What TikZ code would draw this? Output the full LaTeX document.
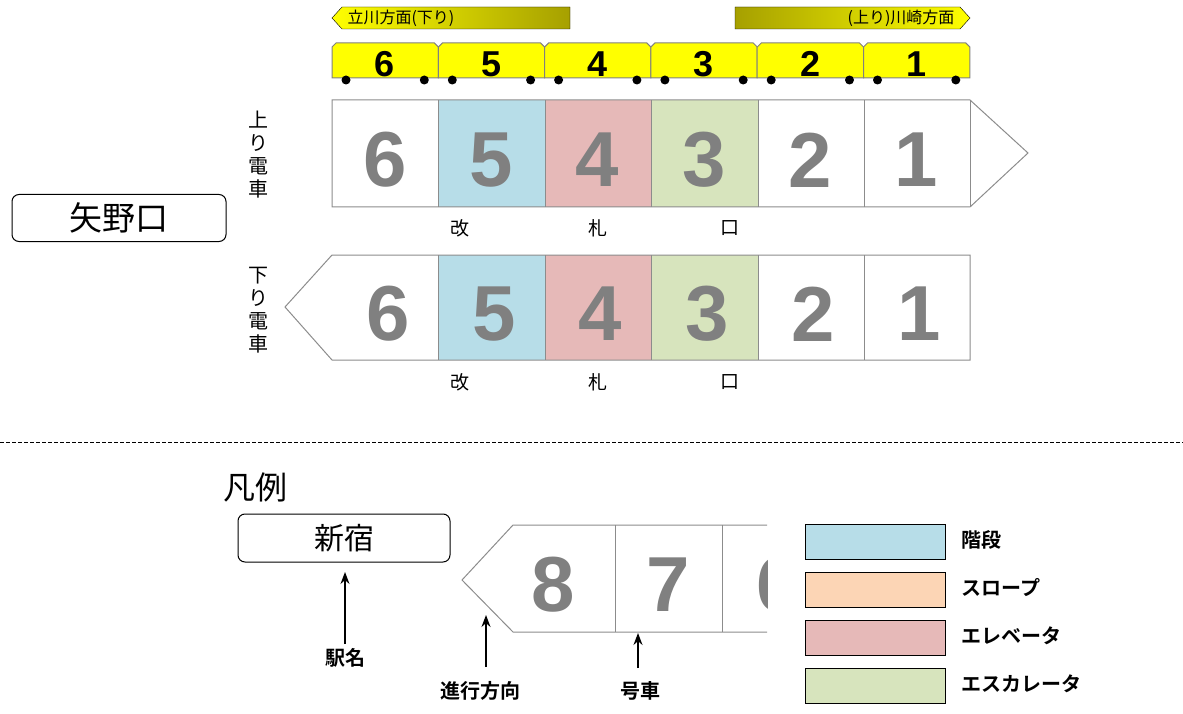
\documentclass[tikz,border=0pt]{standalone}
\usetikzlibrary{arrows.meta}
\usepackage{fontspec}
\setmainfont{Liberation Sans}
\newfontfamily\cjk{Noto Sans CJK JP}
\newfontfamily\cjkb{Noto Sans CJK JP Bold}
\definecolor{cblue}{HTML}{B7DDE8}
\definecolor{cpink}{HTML}{E6B9B8}
\definecolor{cgreen}{HTML}{D7E4BD}
\definecolor{corange}{HTML}{FCD5B5}
\definecolor{olive}{HTML}{A6A000}
\definecolor{yel}{HTML}{FFFF00}
\begin{document}
\begin{tikzpicture}[x=1pt,y=-1pt,
  car/.style={draw=gray!90,line width=1pt},
  num/.style={font=\fontsize{78}{78}\selectfont\bfseries,text=gray},
  ynum/.style={font=\fontsize{36}{36}\selectfont\bfseries},
  jt/.style={font=\cjk\fontsize{19}{19}\selectfont},
  jb/.style={font=\cjkb\fontsize{20}{20}\selectfont},
  arr/.style={-{Stealth[length=12pt,width=9pt]},line width=1.4pt}]
\useasboundingbox (0,0) rectangle (1183,714);
% banners
\shade[left color=yel,right color=olive,draw=black] (342,7) -- (570,7) -- (570,29) -- (342,29) -- (332,18) -- cycle;
\node[font=\cjk\fontsize{16}{16}\selectfont,anchor=west] (bl) at (344,18) {立川方面(下り)};
\shade[left color=olive,right color=yel,draw=black] (735,7) -- (960,7) -- (970,18) -- (960,29) -- (735,29) -- cycle;
\node[font=\cjk\fontsize{16}{16}\selectfont,anchor=east] (br) at (958,18) {(上り)川崎方面};
% yellow cars
\foreach \i/\n in {0/6,1/5,2/4,3/3,4/2,5/1}{
  \pgfmathsetmacro\xa{332+106.3*\i}
  \pgfmathsetmacro\xb{\xa+106.3}
  \fill[yel,draw=gray,line width=1pt] (\xa,78) -- (\xa,47) -- (\xa+4,43) -- (\xb-4,43) -- (\xb,47) -- (\xb,78) -- cycle;
  \node[ynum] (y\n) at (\xa+53,64) {\n};
  \fill (\xa+14,80) circle (4.5);
  \fill (\xb-14,80) circle (4.5);
}
% upper train
\fill[cblue] (438,100) rectangle (545,207);
\fill[cpink] (545,100) rectangle (651,207);
\fill[cgreen] (651,100) rectangle (758,207);
\draw[car] (332,100) -- (970,100) -- (1028,153) -- (970,207) -- (332,207) -- cycle;
\foreach \x in {438,545,651,758,864,970}{\draw[car] (\x,100) -- (\x,207);}
\foreach \i/\n in {0/6,1/5,2/4,3/3,4/2,5/1}{\node[num] (u\n) at (385+106.3*\i,160) {\n};}
% lower train
\fill[cblue] (438,255) rectangle (545,360);
\fill[cpink] (545,255) rectangle (651,360);
\fill[cgreen] (651,255) rectangle (758,360);
\draw[car] (332,255) -- (970,255) -- (970,360) -- (332,360) -- (285,307) -- cycle;
\foreach \x in {438,545,651,758,864}{\draw[car] (\x,255) -- (\x,360);}
\foreach \i/\n in {0/6,1/5,2/4,3/3,4/2,5/1}{\node[num] (d\n) at (388+106.3*\i,314) {\n};}
% labels
\foreach \y/\t in {228/a,382/b}{
 \node[jt] (k\t) at (460,\y) {改};
 \node[jt] (s\t) at (598,\y) {札};
 \node[jt] (g\t) at (730,\y) {口};
}
\node[jt,align=center,inner sep=0pt,font=\cjk\fontsize{20}{23}\selectfont] (up) at (258,155) {上\\り\\電\\車};
\node[jt,align=center,inner sep=0pt,font=\cjk\fontsize{20}{23}\selectfont] (dn) at (258,310) {下\\り\\電\\車};
\node[draw,rounded corners=7pt,line width=1pt,minimum width=214pt,minimum height=47pt,font=\cjk\fontsize{33}{33}\selectfont] (st) at (119,218) {矢野口};
% divider
\draw[dash pattern=on 4pt off 2pt,line width=0.8pt] (0,442) -- (1183,442);
% legend
\node[font=\cjk\fontsize{32}{32}\selectfont] (hanrei) at (255,487) {凡例};
\node[draw,rounded corners=7pt,line width=1pt,minimum width=212pt,minimum height=48pt,font=\cjk\fontsize{30}{30}\selectfont] (sj) at (344,538) {新宿};
\node[jb] (ekimei) at (345,658) {駅名};
\coordinate (c0) at (345,572);
\draw[arr] (345,644) -- (c0);
\begin{scope}
\clip (440,515) rectangle (767,640);
\draw[car] (800,525) -- (513,525) -- (462,580) -- (513,632) -- (800,632);
\draw[car] (615,525) -- (615,632);
\draw[car] (722,525) -- (722,632);
\node[num] (l8) at (553,585) {8};
\node[num] (l7) at (668,585) {7};
\node[num] (l6) at (778,585) {6};
\end{scope}
\node[jb] (shin) at (480,691) {進行方向};
\node[jb] (gou) at (640,691) {号車};
\coordinate (c1) at (486,615);
\coordinate (c2) at (638,633);
\draw[arr] (486,667) -- (c1);
\draw[arr] (638,668) -- (c2);
\foreach \y/\c/\t/\n in {542/cblue/階段/a,590/corange/スロープ/b,638/cpink/エレベータ/c,686/cgreen/エスカレータ/d}{
  \node[draw,fill=\c,line width=1pt,minimum width=140pt,minimum height=35pt] (box\n) at (875,\y) {};
  \node[jb,anchor=west] (lab\n) at (958,\y-2) {\t};
}
\end{tikzpicture}
\end{document}
